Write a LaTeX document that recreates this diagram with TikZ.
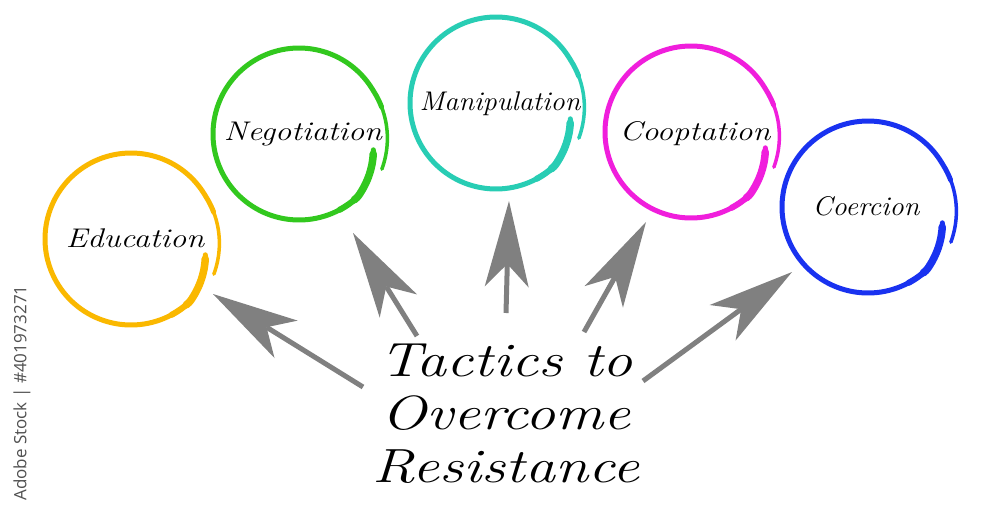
\documentclass[tikz,border=0pt]{standalone}
\usepackage{fontspec}
\newfontfamily\wmfont{Open Sans}
\usetikzlibrary{arrows.meta}
\definecolor{cedu}{RGB}{250,184,0}
\definecolor{cneg}{RGB}{50,200,30}
\definecolor{cman}{RGB}{40,205,180}
\definecolor{ccoo}{RGB}{240,30,220}
\definecolor{ccoe}{RGB}{25,50,240}
\definecolor{arrowgray}{RGB}{128,128,128}
\definecolor{wmgray}{RGB}{80,80,80}
\tikzset{
  lbl/.style={font=\fontsize{27}{32}\selectfont\itshape, text=black, inner sep=0pt},
  ttl/.style={font=\fontsize{48}{53}\selectfont\itshape, align=center, inner sep=0pt},
  bigarrow/.style={draw=arrowgray, line width=5pt,
    -{Stealth[length=86pt,width=44pt,inset=23pt,line width=0pt]}},
  hub/.style={circle, minimum size=172pt, inner sep=0pt}
}
\newcommand{\stretchtext}[2]{\scalebox{#1}[1]{#2}}
% brush-like ring: #1 = x, #2 = y, #3 = colour
\newcommand{\brushring}[3]{%
  \draw[#3, line width=5pt, line cap=round]
    plot[domain=12:342, samples=120, smooth]
    ({#1+(86-10*max(0,1-(\x-12)/35)+4*max(0,(\x-330)/53))*cos(\x)},
     {#2+(86-10*max(0,1-(\x-12)/35)+4*max(0,(\x-330)/53))*sin(\x)});
  \draw[#3, line width=3.5pt, line cap=round]
    plot[domain=338:383, samples=30, smooth]
    ({#1+(86+4*max(0,(\x-330)/53))*cos(\x)},
     {#2+(86+4*max(0,(\x-330)/53))*sin(\x)});
  \draw[#3, line width=7.5pt, line cap=round]
    plot[domain=15:50, samples=30, smooth]
    ({#1+(86-10*max(0,1-(\x-12)/35))*cos(\x)},
     {#2+(86-10*max(0,1-(\x-12)/35))*sin(\x)});
  \draw[#3, line width=6pt, line cap=round]
    plot[domain=48:62, samples=10, smooth]
    ({#1+86*cos(\x)}, {#2+86*sin(\x)});
}
\begin{document}
\begin{tikzpicture}[x=1pt,y=-1pt]
\useasboundingbox[fill=white] (0,0) rectangle (1000,519);

% rings
\brushring{131}{239}{cedu}
\brushring{299}{134}{cneg}
\brushring{496}{103}{cman}
\brushring{691}{132}{ccoo}
\brushring{868}{207}{ccoe}

% hub nodes with labels
\node[hub] (edu) at (131,239) {};
\node[hub] (neg) at (299,134) {};
\node[hub] (man) at (496,103) {};
\node[hub] (coo) at (691,132) {};
\node[hub] (coe) at (868,207) {};
\node[lbl, anchor=base] (tedu) at (135,247) {\stretchtext{1.2}{Education}};
\node[lbl, anchor=base] (tneg) at (303,140) {\stretchtext{1.2}{Negotiation}};
\node[lbl, anchor=base] (tman) at (500,110) {\stretchtext{1.05}{Manipulation}};
\node[lbl, anchor=base] (tcoo) at (695,140) {\stretchtext{1.2}{Cooptation}};
\node[lbl, anchor=base] (tcoe) at (866,215) {\stretchtext{1.05}{Coercion}};

% title
\node[ttl] (title) at (506,414) {\stretchtext{1.25}{Tactics to}\\\stretchtext{1.25}{Overcome}\\\stretchtext{1.25}{Resistance}};

% arrow end points
\coordinate (s1) at (363,387); \coordinate (e1) at (213,294);
\coordinate (s2) at (417,336); \coordinate (e2) at (353,233);
\coordinate (s3) at (506,313); \coordinate (e3) at (509,201);
\coordinate (s4) at (584,332); \coordinate (e4) at (646,222);
\coordinate (s5) at (643,381); \coordinate (e5) at (792,272);
\draw[bigarrow] (s1) -- (e1);
\draw[bigarrow] (s2) -- (e2);
\draw[bigarrow] (s3) -- (e3);
\draw[bigarrow] (s4) -- (e4);
\draw[bigarrow] (s5) -- (e5);

% watermark caption
\node[rotate=90, font=\wmfont\fontsize{17}{20}\selectfont, text=wmgray, anchor=center] (wm) at (22,393) {Adobe Stock | \#401973271};
\end{tikzpicture}
\end{document}
